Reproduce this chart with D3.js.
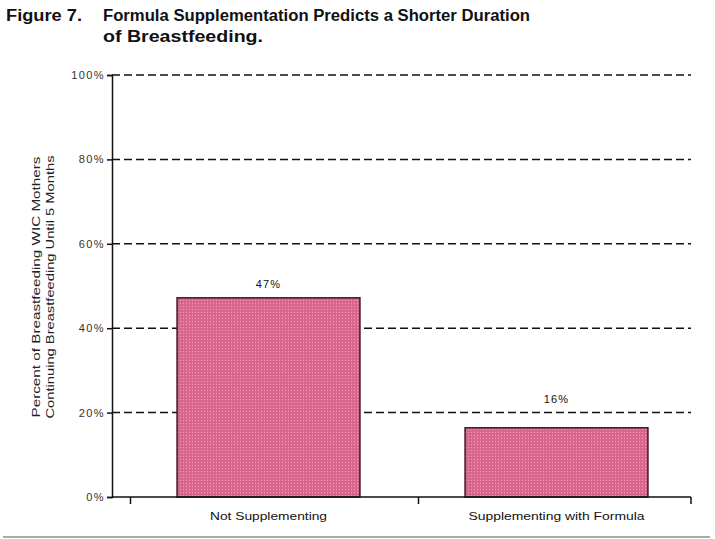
<!DOCTYPE html>
<html><head><meta charset="utf-8">
<script src="https://cdn.jsdelivr.net/npm/d3@7"></script>
<style>body{margin:0;background:#fff}svg{display:block}</style>
</head><body>
<script>
const categories = ["Not Supplementing", "Supplementing with Formula"];
const values = [47.2, 16.4];
const valueLabels = ["47%", "16%"];
const yTicks = [0, 20, 40, 60, 80, 100];
const titleLine1 = "Formula Supplementation Predicts a Shorter Duration";
const titleLine2 = "of Breastfeeding.";
const yLabel1 = "Percent of Breastfeeding WIC Mothers";
const yLabel2 = "Continuing Breastfeeding Until 5 Months";

const W = 715, H = 539;
const svg = d3.select("body").append("svg").attr("width", W).attr("height", H);
const font = "'Liberation Sans', Arial, sans-serif";

const defs = svg.append("defs");
const pat = defs.append("pattern").attr("id","dots").attr("patternUnits","userSpaceOnUse").attr("width",3).attr("height",3);
pat.append("rect").attr("width",3).attr("height",3).attr("fill","#d9668c");
pat.append("rect").attr("width",1).attr("height",1).attr("fill","#ee9bb6");

const y = d3.scaleLinear().domain([0,100]).range([497, 75]);
const x = d3.scaleBand().domain(categories).range([124.5, 700.5]).paddingInner(0.365).paddingOuter(0.1825);
const axisLeft = 112, axisRight = 691;

// title
svg.append("text").attr("x",6).attr("y",21).attr("font-family",font).attr("font-weight","bold")
  .attr("font-size",16).attr("fill","#111").attr("textLength",76).attr("lengthAdjust","spacingAndGlyphs").text("Figure 7.");
svg.append("text").attr("x",103).attr("y",21).attr("font-family",font).attr("font-weight","bold")
  .attr("font-size",16).attr("fill","#111").attr("textLength",427).attr("lengthAdjust","spacingAndGlyphs").text(titleLine1);
svg.append("text").attr("x",103).attr("y",42).attr("font-family",font).attr("font-weight","bold")
  .attr("font-size",16).attr("fill","#111").attr("textLength",160).attr("lengthAdjust","spacingAndGlyphs").text(titleLine2);

// gridlines
const grid = yTicks.filter(d=>d>0);
svg.append("g").selectAll("line").data(grid).join("line")
  .attr("x1",axisLeft).attr("x2",axisRight).attr("y1",d=>y(d)).attr("y2",d=>y(d))
  .attr("stroke","#111").attr("stroke-width",1.5).attr("stroke-dasharray","8,4");

// bars
svg.append("g").selectAll("rect").data(values).join("rect")
  .attr("x",(d,i)=>x(categories[i])).attr("width",x.bandwidth())
  .attr("y",d=>y(d)).attr("height",d=>y(0)-y(d))
  .attr("fill","url(#dots)").attr("stroke","#3a1a22").attr("stroke-width",1.5);

// value labels (moved above a gridline if they would collide with it)
function labelY(d){
  let ly = y(d) - 10;
  grid.forEach(g => { const gy = y(g); if (ly > gy - 4 && ly - 9 < gy + 2) ly = gy - 10; });
  return ly;
}
svg.append("g").selectAll("text").data(values).join("text")
  .attr("x",(d,i)=>x(categories[i])+x.bandwidth()/2).attr("y",labelY)
  .attr("text-anchor","middle").attr("font-family",font).attr("font-size",11).attr("letter-spacing",1.2).attr("fill","#111")
  .text((d,i)=>valueLabels[i]);

// y axis
const ya = svg.append("g").attr("transform",`translate(${axisLeft},0)`)
  .call(d3.axisLeft(y).tickValues(yTicks).tickSize(5).tickPadding(2).tickFormat(d=>d+"%"));
ya.select(".domain").attr("stroke","#111").attr("stroke-width",1.5);
ya.selectAll(".tick line").attr("stroke","#111").attr("stroke-width",1.5);
ya.selectAll(".tick text").attr("font-family",font).attr("font-size",11).attr("letter-spacing",1.4).attr("fill","#333");

// x axis
svg.append("line").attr("x1",axisLeft).attr("x2",axisRight).attr("y1",y(0)).attr("y2",y(0))
  .attr("stroke","#111").attr("stroke-width",1.5);
const step = x.step(), gap = step*x.paddingInner();
const bounds = [x(categories[0]) - gap/2 + 6, x(categories[1]) - gap/2 + 6, axisRight];
svg.append("g").selectAll("line").data(bounds).join("line")
  .attr("x1",d=>d).attr("x2",d=>d).attr("y1",y(0)).attr("y2",y(0)+7)
  .attr("stroke","#111").attr("stroke-width",1.5);
const catWidths = [117, 176];
svg.append("g").selectAll("text").data(categories).join("text")
  .attr("x",(d)=>x(d)+x.bandwidth()/2 - 58.5 * 0).attr("y",y(0)+23).attr("text-anchor","middle")
  .attr("font-family",font).attr("font-size",11).attr("fill","#111")
  .attr("textLength",(d,i)=>catWidths[i]).attr("lengthAdjust","spacingAndGlyphs").text(d=>d);

// y label
const yl = svg.append("g").attr("font-family",font).attr("font-size",11.5).attr("fill","#222").attr("text-anchor","middle");
yl.append("text").attr("transform","translate(40,287) rotate(-90)").attr("textLength",261).attr("lengthAdjust","spacingAndGlyphs").text(yLabel1);
yl.append("text").attr("transform","translate(54,287) rotate(-90)").attr("textLength",263).attr("lengthAdjust","spacingAndGlyphs").text(yLabel2);

// bottom rule
svg.append("line").attr("x1",3).attr("x2",710).attr("y1",537).attr("y2",537).attr("stroke","#aaa").attr("stroke-width",2);
</script>
</body></html>
